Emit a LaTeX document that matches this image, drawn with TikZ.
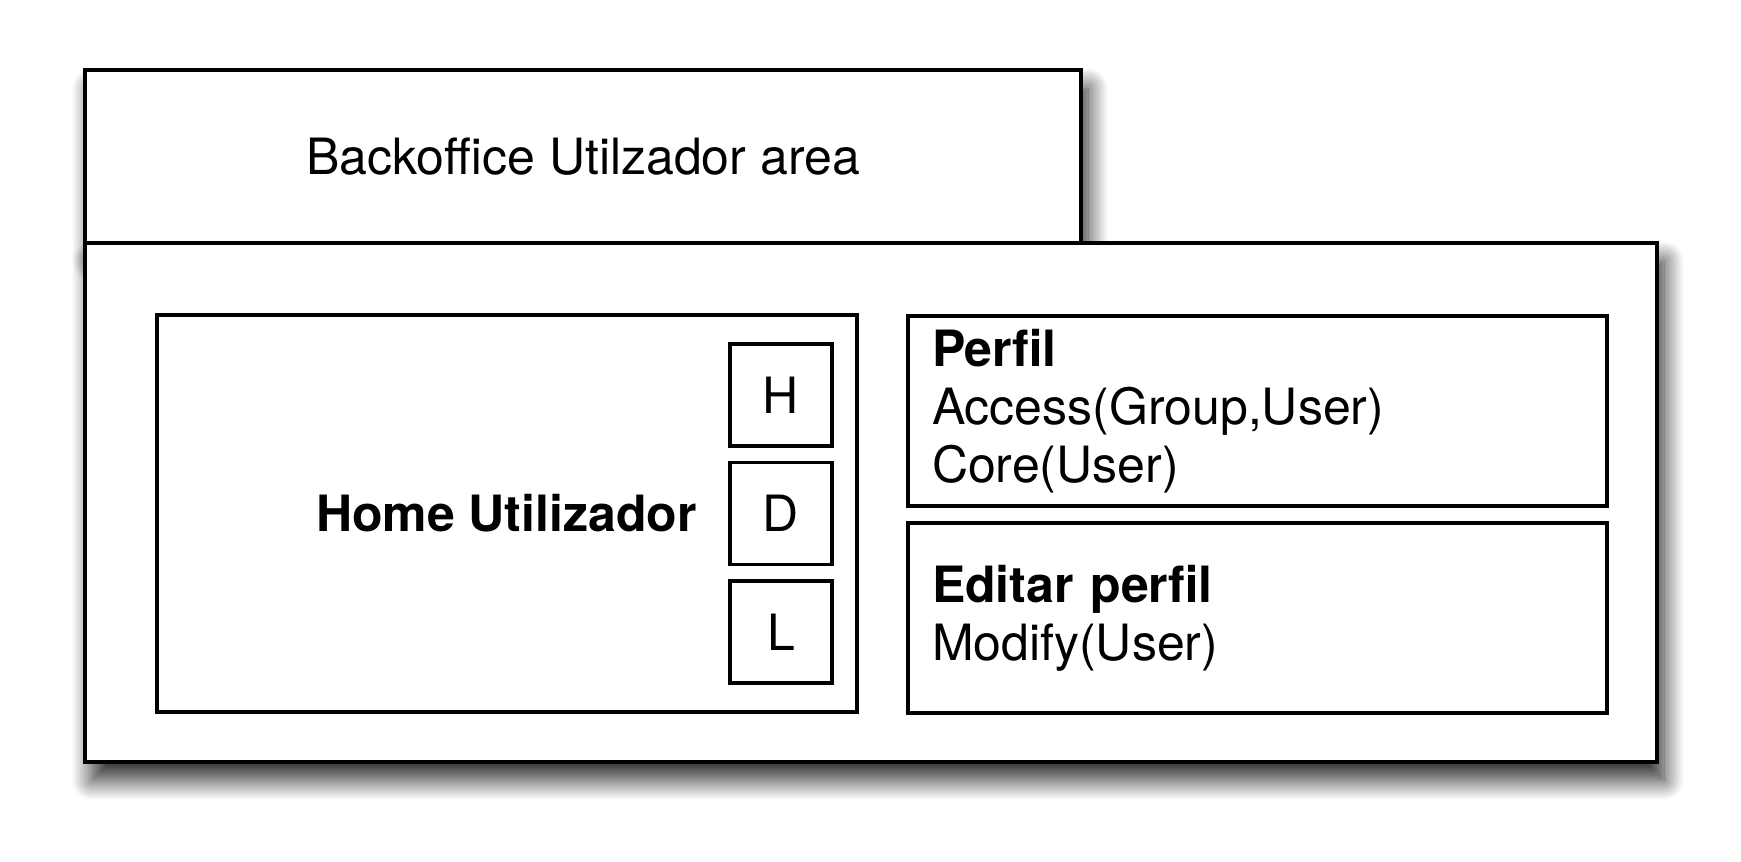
\documentclass[tikz,border=0pt]{standalone}
\usepackage{fontspec}
\setmainfont{TeX Gyre Heros}
\usepackage{tikz}
\usetikzlibrary{positioning,shadows.blur}

\begin{document}
\begin{tikzpicture}[x=0.5pt, y=-0.5pt, line width=1.7pt, node distance=6.6pt, font=\fontsize{25}{29}\selectfont]
	\tikzstyle{panel}=[draw=black, fill=white, rectangle, inner sep=0pt]
	\tikzstyle{outer}=[panel, blur shadow={shadow xshift=3.5pt, shadow yshift=-9pt, shadow blur radius=10pt, shadow blur steps=18, shadow opacity=85}]
	\tikzstyle{key}=[panel, minimum size=51pt]
	\tikzstyle{menu}=[panel, minimum width=349.5pt, minimum height=95pt, text width=325.5pt, align=left, inner xsep=12pt]
	\tikzstyle{caption}=[inner sep=0pt, font=\fontsize{25}{29}\selectfont\bfseries]

	\useasboundingbox (0,0) rectangle (1741,862);

	\begin{scope}
		\node[outer, minimum width=498pt, minimum height=86.5pt] (tab) at (583,156.5) {Backoffice Utilzador area};
		\node[outer, minimum width=786pt, minimum height=259.5pt] (area) at (871,502.5) {};

		\node[panel, minimum width=350pt, minimum height=198.5pt] (home) at (507,513.5) {};
		\node[key] (keyD) at (781,513.5) {D}; \node[key] (keyH) [above=of keyD] {H};
		\node[key] (keyL) [below=of keyD] {L};
		\node[caption] (hometext) [left=15pt of keyD] {Home Utilizador};

		\node[menu] (perfil) at (1257.5,411) {\textbf{Perfil}\\Access(Group,User)\\Core(User)};
		\node[menu] (editar) [below=6.8pt of perfil] {\textbf{Editar perfil}\\Modify(User)};
	\end{scope}
\end{tikzpicture}
\end{document}
